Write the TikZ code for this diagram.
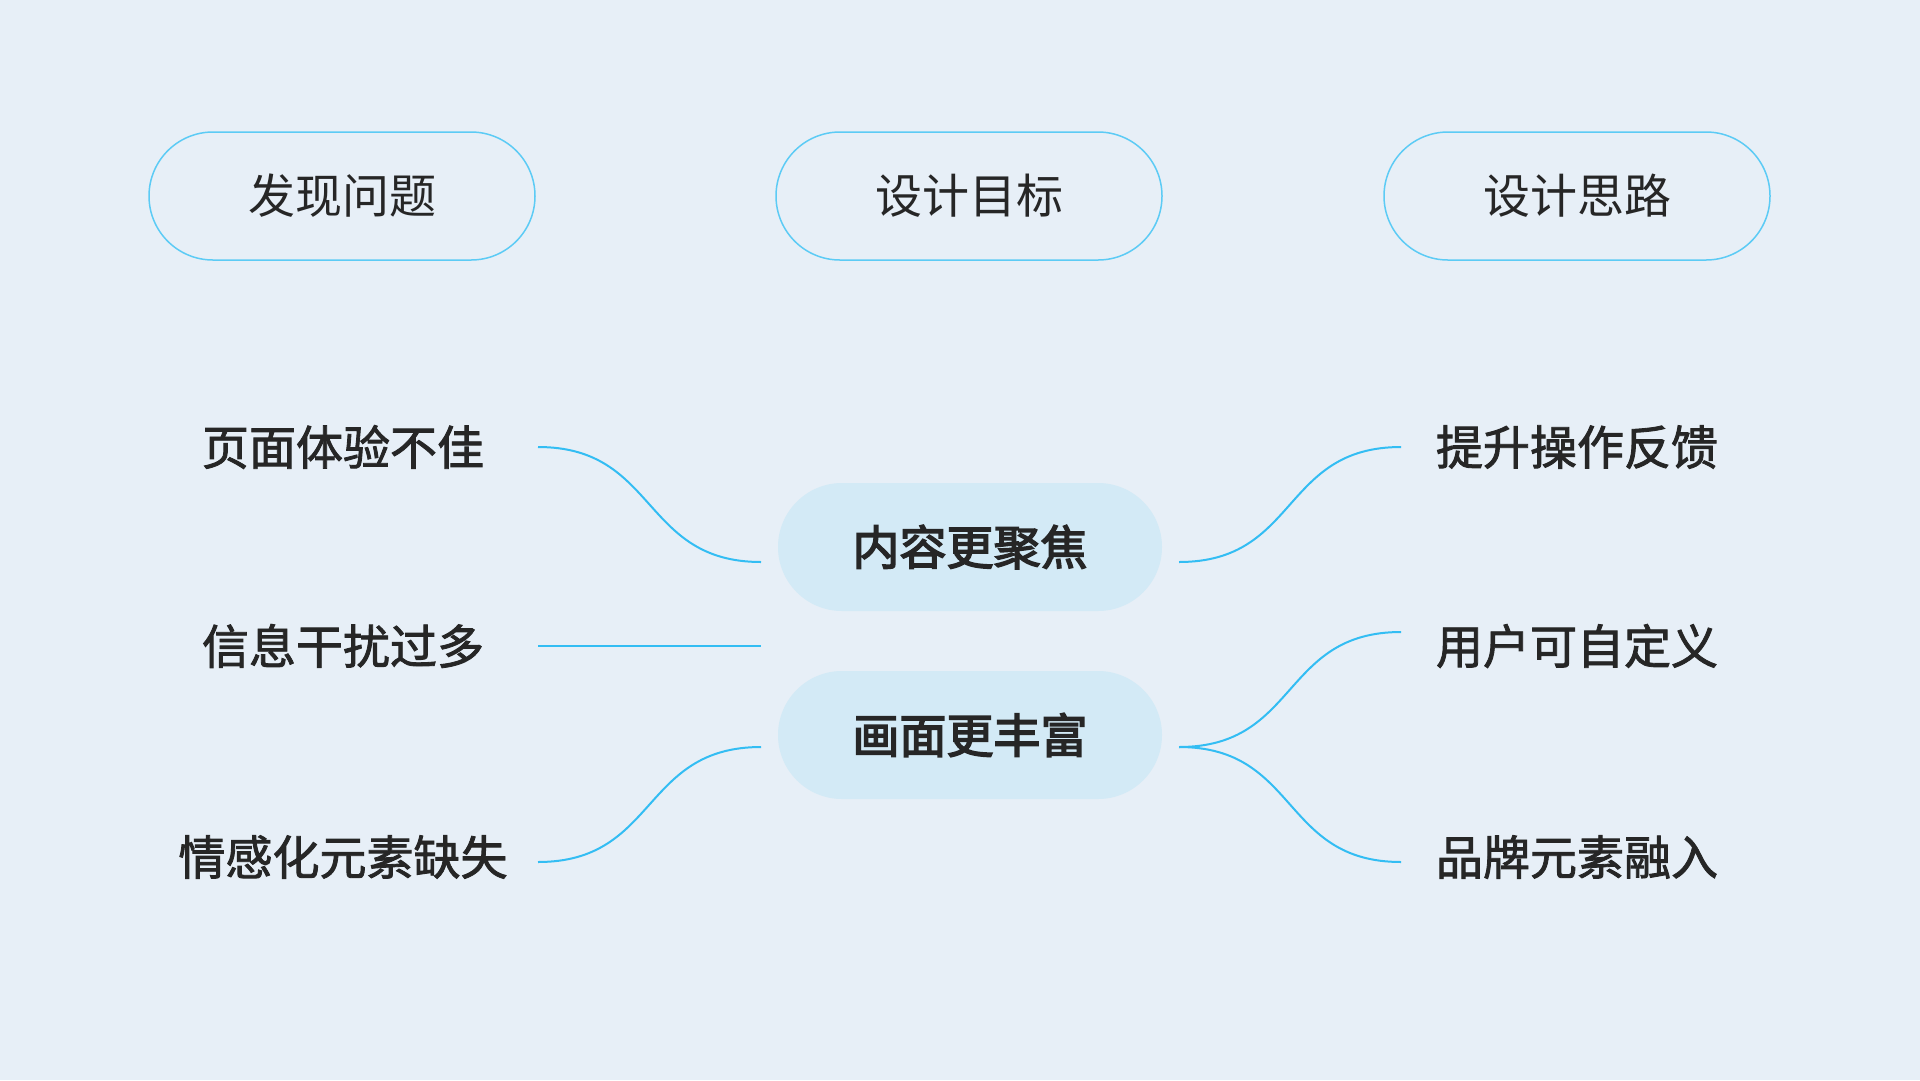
\documentclass[tikz,border=0pt]{standalone}
\usepackage{fontspec}
\usetikzlibrary{calc}
\newfontfamily\cjk{Noto Sans CJK SC}
\newfontfamily\cjkmed[FakeBold=1.8]{Noto Sans CJK SC}
\newfontfamily\cjkstrong[FakeBold=3.2]{Noto Sans CJK SC}
\definecolor{bg}{HTML}{E7EFF7}
\definecolor{edge}{HTML}{5CCBF5}
\definecolor{wire}{HTML}{33BDF3}
\definecolor{pill}{HTML}{D3EAF6}
\definecolor{ink}{HTML}{262626}
\tikzset{
  headbox/.style={draw=edge, line width=1.5pt, rounded corners=64pt, minimum width=386pt, minimum height=128pt, inner sep=0pt, text=ink, font=\cjk\fontsize{47}{56}\selectfont},
  goalbox/.style={fill=pill, rounded corners=64pt, minimum width=384pt, minimum height=128pt, inner sep=0pt, text=ink, font=\cjkstrong\fontsize{47}{56}\selectfont},
  sidelabel/.style={inner sep=0pt, text=ink, font=\cjkmed\fontsize{47}{56}\selectfont},
  wireline/.style={draw=wire, line width=2pt}
}
\begin{document}
\begin{tikzpicture}[x=1pt,y=-1pt]
\fill[bg] (0,0) rectangle (1920,1080);
\useasboundingbox (0,0) rectangle (1920,1080);
% headers
\node[headbox] (h1) at (342,196) {发现问题};
\node[headbox] (h2) at (969,196) {设计目标};
\node[headbox] (h3) at (1577,196) {设计思路};
% goals
\node[goalbox] (g1) at (970,547) {内容更聚焦};
\node[goalbox] (g2) at (970,735) {画面更丰富};
% left labels
\node[sidelabel] (l1) at (343,447) {页面体验不佳};
\node[sidelabel] (l2) at (343,646) {信息干扰过多};
\node[sidelabel] (l3) at (343,857) {情感化元素缺失};
% right labels
\node[sidelabel] (r1) at (1577,447) {提升操作反馈};
\node[sidelabel] (r2) at (1577,646) {用户可自定义};
\node[sidelabel] (r3) at (1577,857) {品牌元素融入};
% connector end points
\coordinate (l1e) at (538,447);
\coordinate (l2e) at (538,646);
\coordinate (l3e) at (538,862);
\coordinate (g1l) at (761,562);
\coordinate (g2l) at (761,747);
\coordinate (c2l) at (761,646);
\coordinate (g1r) at (1179,562);
\coordinate (g2r) at (1179,747);
\coordinate (r1e) at (1401,447);
\coordinate (r2e) at (1401,632);
\coordinate (r3e) at (1401,862);
% connectors
\draw[wireline] (l1e) .. controls ($(l1e)+(120,0)$) and ($(g1l)+(-120,0)$) .. (g1l);
\draw[wireline] (l2e) -- (c2l);
\draw[wireline] (l3e) .. controls ($(l3e)+(120,0)$) and ($(g2l)+(-120,0)$) .. (g2l);
\draw[wireline] (g1r) .. controls ($(g1r)+(120,0)$) and ($(r1e)+(-120,0)$) .. (r1e);
\draw[wireline] (g2r) .. controls ($(g2r)+(120,0)$) and ($(r2e)+(-120,0)$) .. (r2e);
\draw[wireline] (g2r) .. controls ($(g2r)+(120,0)$) and ($(r3e)+(-120,0)$) .. (r3e);
\end{tikzpicture}
\end{document}
